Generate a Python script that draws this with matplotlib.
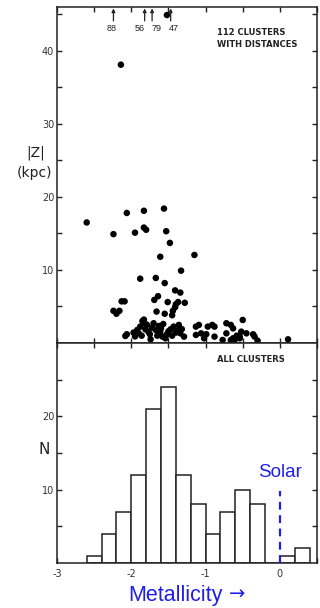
import numpy as np
import matplotlib
matplotlib.use("Agg")
import matplotlib.pyplot as plt

# clusters with distances: metallicity vs |Z| (kpc)
feh = [-2.60, -2.24, -2.06, -1.83, -1.56, -1.95, -1.83, -1.80, -1.53, -1.48,
       -1.61, -1.15, -1.33, -1.88, -1.67, -1.55, -1.41, -1.34, -2.13, -2.09,
       -1.64, -1.69, -1.51, -1.37, -1.28, -1.40, -1.41, -1.44, -1.45, -1.55,
       -1.66, -2.24, -2.20, -2.16, -1.83, -1.85, -2.14, -1.52,
       -2.08, -2.06, -1.97, -1.92, -1.90, -1.88, -1.83, -1.81, -1.77, -1.74,
       -1.70, -1.67, -1.63, -1.61, -1.58, -1.54, -1.47, -1.43, -1.40, -1.36,
       -1.34, -1.29, -1.13, -1.09, -1.13, -1.06, -1.02, -0.97, -0.91, -0.88,
       -0.88, -0.77, -0.72, -0.72, -0.66, -0.63, -0.61, -0.54, -0.54, -0.50,
       -0.52, -0.45, -0.36, -0.34, -0.30, 0.11,
       -1.95, -1.86, -1.79, -1.75, -1.72, -1.65, -1.60, -1.57, -1.52, -1.50,
       -1.45, -1.38, -1.32, -0.63, -0.58, -0.66, -0.99]
zkpc = [16.5, 14.9, 17.8, 18.1, 18.4, 15.1, 15.8, 15.5, 15.3, 13.7,
        11.8, 12.05, 9.9, 8.8, 8.9, 8.2, 7.2, 6.9, 5.7, 5.7,
        6.4, 5.9, 5.6, 5.6, 5.5, 5.3, 4.9, 4.4, 3.8, 4.0,
        4.3, 4.4, 4.0, 4.4, 3.2, 3.0, 38.1, 44.9,
        0.96, 1.19, 1.42, 1.78, 1.32, 2.24, 2.7, 1.87, 1.55, 0.5,
        2.7, 1.78, 2.33, 1.55, 0.87, 0.64, 1.87, 2.24, 1.42, 2.47,
        1.32, 0.87, 2.24, 2.47, 1.1, 1.32, 0.64, 2.24, 2.47, 2.24,
        0.87, 0.41, 2.7, 1.32, 2.47, 2.0, 0.41, 0.64, 0.87, 3.15,
        1.55, 1.32, 1.19, 0.87, 0.32, 0.5,
        0.9, 1.0, 2.5, 1.2, 2.1, 1.0, 2.0, 2.6, 1.2, 1.6,
        1.0, 1.7, 1.9, 0.64, 1.0, 0.4, 1.2]

# clusters off the top of the plot
off_names = ["88", "56", "79", "47"]
off_feh = [-2.24, -1.82, -1.72, -1.47]
off_label_x = [-2.27, -1.89, -1.66, -1.43]

# histogram of all clusters
bin_edges = [-2.6, -2.4, -2.2, -2.0, -1.8, -1.6, -1.4, -1.2, -1.0, -0.8,
             -0.6, -0.4, -0.2, 0.0, 0.2, 0.4]
counts = [1, 4, 7, 12, 21, 24, 12, 8, 4, 7, 10, 8, 0, 1, 2]

ink = "#222222"
blue = "#1f1fe6"

fig = plt.figure(figsize=(3.2, 6.08), dpi=100)
fig.patch.set_facecolor("white")

ax1 = fig.add_axes([57 / 320, 0.4359, 260 / 320, 0.5526])
ax2 = fig.add_axes([57 / 320, 0.074, 260 / 320, 0.3619])

xt = np.arange(-3, 0.51, 0.5)

# ---- top panel
ax1.scatter(feh, zkpc, s=22, color="black", edgecolors="none", zorder=3)
ax1.set_xlim(-3, 0.5)
ax1.set_ylim(0, 46)
ax1.set_xticks(xt)
ax1.set_xticklabels([])
ax1.set_yticks(np.arange(5, 46, 5))
ax1.set_yticklabels(["" if v % 10 else str(v) for v in range(5, 46, 5)])

for name, x, lx in zip(off_names, off_feh, off_label_x):
    ax1.annotate("", xy=(x, 45.8), xytext=(x, 44.1),
                 arrowprops=dict(arrowstyle="-|>", color=ink, lw=0.9,
                                 mutation_scale=5, shrinkA=0, shrinkB=0))
    ax1.text(lx, 43.1, name, ha="center", va="center", fontsize=6.5,
             color=ink, family="Liberation Sans")

ax1.text(0.615, 0.923, "112 CLUSTERS", transform=ax1.transAxes,
         fontsize=6, fontweight="bold", color=ink, va="center")
ax1.text(0.615, 0.887, "WITH DISTANCES", transform=ax1.transAxes,
         fontsize=6, fontweight="bold", color=ink, va="center")

# ---- bottom panel
ax2.bar(bin_edges[:-1], counts, width=np.diff(bin_edges), align="edge",
        color="white", edgecolor=ink, linewidth=1.1, zorder=2)
ax2.set_xlim(-3, 0.5)
ax2.set_ylim(0, 30)
ax2.set_xticks(xt)
ax2.set_xticklabels(["-3", "", "-2", "", "-1", "", "0", ""])
ax2.set_yticks(np.arange(5, 30, 5))
ax2.set_yticklabels(["" if v % 10 else str(v) for v in range(5, 30, 5)])

ax2.text(0.615, 0.927, "ALL CLUSTERS", transform=ax2.transAxes,
         fontsize=6, fontweight="bold", color=ink, va="center")

ax2.plot([0, 0], [0, 9.8], color=blue, lw=1.6, ls=(0, (3.5, 2.5)), zorder=3)
ax2.text(0, 12.3, "Solar", color=blue, fontsize=13.5, ha="center",
         va="center", family="Liberation Sans")
ax2.text(-2.04, -4.4, "Metallicity", color=blue, fontsize=15.5,
         ha="left", va="center", family="Liberation Sans", clip_on=False)
ax2.text(-0.69, -4.3, "\u2192", color=blue, fontsize=14,
         ha="left", va="center", family="DejaVu Sans", clip_on=False)

for ax in (ax1, ax2):
    for sp in ax.spines.values():
        sp.set_color(ink)
        sp.set_linewidth(1.1)
    ax.tick_params(direction="in", top=True, right=True, length=3.5,
                   width=1.0, color=ink, labelsize=7, labelcolor="#333333",
                   pad=2)
    ax.set_zorder(1)

ax2.tick_params(axis="x", pad=4)

fig.text(36 / 320, 1 - 153 / 608, "|Z|", fontsize=10, ha="center",
         va="center", color=ink)
fig.text(34 / 320, 1 - 173 / 608, "(kpc)", fontsize=10, ha="center",
         va="center", color=ink)
fig.text(44 / 320, 1 - 450 / 608, "N", fontsize=11, ha="center",
         va="center", color=ink)

fig.savefig("out.png", dpi=100, facecolor="white")
